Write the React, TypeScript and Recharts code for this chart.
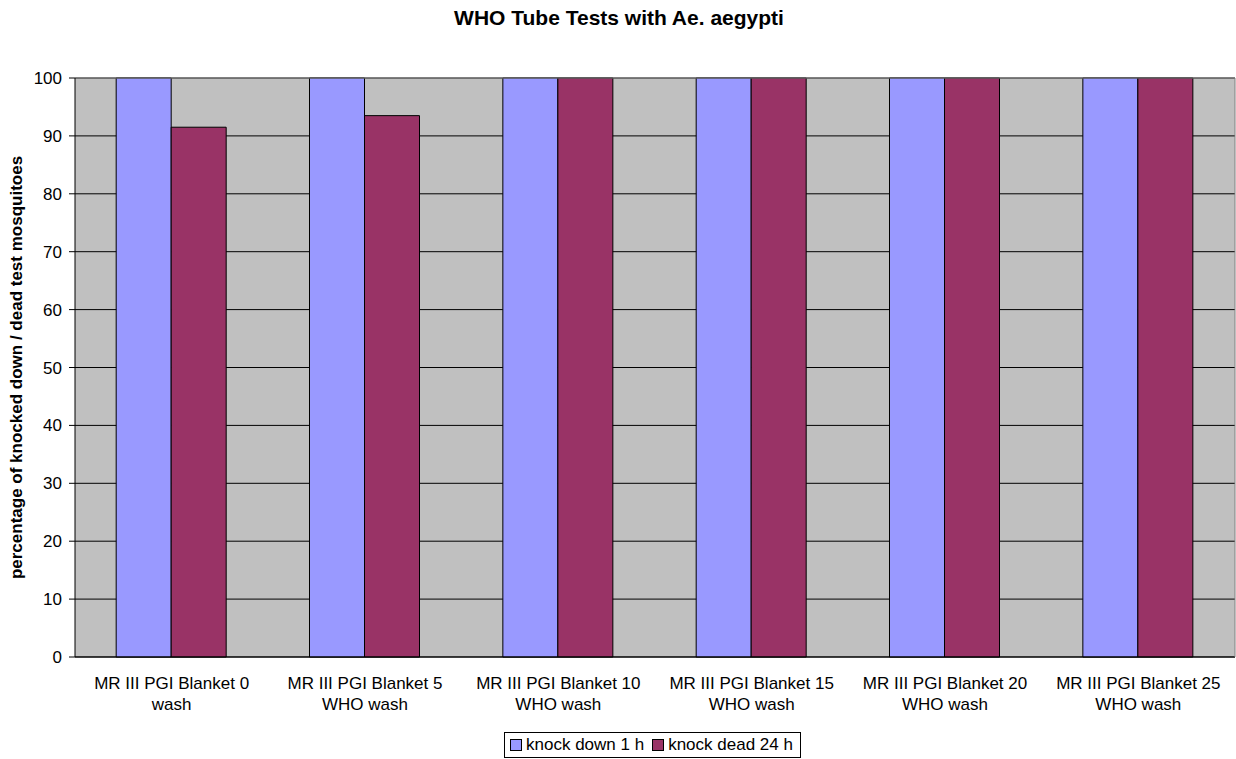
import { BarChart, Bar, XAxis, YAxis, CartesianGrid, Legend } from "recharts"

const categories = [
  "MR III PGI Blanket 0\nwash",
  "MR III PGI Blanket 5\nWHO wash",
  "MR III PGI Blanket 10\nWHO wash",
  "MR III PGI Blanket 15\nWHO wash",
  "MR III PGI Blanket 20\nWHO wash",
  "MR III PGI Blanket 25\nWHO wash",
]
const knockDown1h = [100, 100, 100, 100, 100, 100]
const knockDead24h = [91.5, 93.5, 100, 100, 100, 100]
const yTicks = [0, 10, 20, 30, 40, 50, 60, 70, 80, 90, 100]
const edgeTicks = [0, 1, 2, 3, 4, 5, 6]

const series = [
  { key: "down", name: "knock down 1 h", color: "#9999FF" },
  { key: "dead", name: "knock dead 24 h", color: "#993366" },
]

const data = categories.map((name, i) => ({
  name,
  down: knockDown1h[i],
  dead: knockDead24h[i],
}))

const font = "'Liberation Sans', Arial, sans-serif"

function CategoryTick({ x, y, payload }: any) {
  const lines = String(payload.value).split("\n")
  return (
    <text x={x} y={y} textAnchor="middle" fontSize={17} fontFamily={font} fill="#000">
      {lines.map((line, i) => (
        <tspan key={i} x={x} dy={i === 0 ? 31 : 21}>{line}</tspan>
      ))}
    </text>
  )
}

function LegendBox() {
  return (
    <div style={{
      display: "flex", alignItems: "center", height: 24, border: "1px solid #000",
      background: "#fff", padding: "0 7px 0 5px", fontFamily: font, fontSize: 17, whiteSpace: "nowrap",
    }}>
      {series.map((s, i) => (
        <span key={s.key} style={{ display: "flex", alignItems: "center", marginRight: i === 0 ? 8 : 0 }}>
          <span style={{ width: 10, height: 10, border: "1px solid #000", background: s.color, marginRight: 4 }} />
          {s.name}
        </span>
      ))}
    </div>
  )
}

export default function App() {
  return (
    <div style={{ position: "absolute", left: 0, top: 0, width: 1236, height: 759, background: "#fff" }}>
      <BarChart
        width={1236}
        height={759}
        data={data}
        margin={{ top: 77, right: 0, bottom: 1, left: 0 }}
        barCategoryGap="21.3%"
        barGap={0}
      >
        <CartesianGrid xAxisId="cat" vertical={false} stroke="#000" fill="#C0C0C0" fillOpacity={1} />
        <XAxis xAxisId="top" orientation="top" dataKey="name" height={1} tick={false} tickLine={false} axisLine={{ stroke: "#808080" }} />
        <XAxis xAxisId="cat" dataKey="name" interval={0} height={74} tickLine={false} tickSize={0} tickMargin={0} tick={<CategoryTick />} axisLine={false} />
        <XAxis xAxisId="aEdge" type="number" domain={[0, 6]} ticks={edgeTicks} height={1} tick={false} tickSize={6} tickLine={{ stroke: "#000" }} axisLine={{ stroke: "#000" }} />
        <YAxis
          domain={[0, 100]}
          ticks={yTicks}
          width={75}
          tickSize={6}
          tickMargin={7}
          tick={{ fontSize: 17, fontFamily: font, fill: "#000" }}
          tickLine={{ stroke: "#000" }}
          axisLine={{ stroke: "#000" }}
        />
        <YAxis yAxisId="r" orientation="right" domain={[0, 100]} width={1} tick={false} tickLine={false} axisLine={{ stroke: "#808080" }} />
        {series.map((s) => (
          <Bar key={s.key} xAxisId="cat" dataKey={s.key} name={s.name} fill={s.color} stroke="#000" strokeWidth={1} isAnimationActive={false} />
        ))}
        <Legend
          verticalAlign="bottom"
          content={() => <LegendBox />}
          wrapperStyle={{ left: 504, bottom: 1, width: "auto" }}
        />
        <text x={619} y={25} textAnchor="middle" fontSize={21} fontWeight="bold" fontFamily={font} fill="#000">
          WHO Tube Tests with Ae. aegypti
        </text>
        <text x={22} y={367.5} transform="rotate(-90 22 367.5)" textAnchor="middle" fontSize={17} fontWeight="bold" fontFamily={font} fill="#000">
          percentage of knocked down / dead test mosquitoes
        </text>
      </BarChart>
    </div>
  )
}
